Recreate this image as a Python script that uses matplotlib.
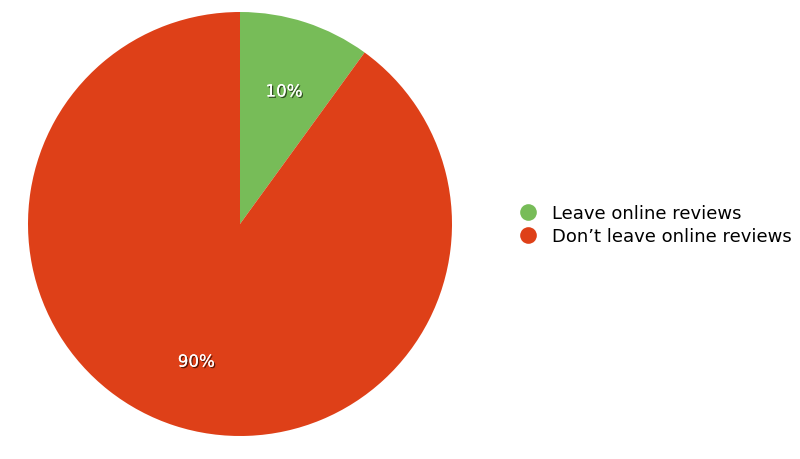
import matplotlib
matplotlib.use('Agg')
import matplotlib.pyplot as plt
import matplotlib.patheffects as pe
from matplotlib.lines import Line2D

plt.rcParams['font.family'] = ['DejaVu Sans']

# Data
labels = ['Leave online reviews', "Don\u2019t leave online reviews"]
values = [10, 90]
colors = ['#77bc58', '#de4018']

fig = plt.figure(figsize=(8, 4.6), dpi=100)
ax = fig.add_axes([28 / 800, 23 / 460, 424 / 800, 424 / 460])

wedges, texts, autotexts = ax.pie(values, colors=colors, startangle=90, counterclock=False,
                                  radius=1, autopct='%d%%', pctdistance=0.67,
                                  wedgeprops=dict(linewidth=0))
ax.set_xlim(-1, 1)
ax.set_ylim(-1, 1)
ax.set_aspect('equal')
ax.axis('off')

# Percentage labels with a small drop shadow
for t in autotexts:
    x, y = t.get_position()
    t.set_position((x, y - 0.012))
    t.set_color('white')
    t.set_fontsize(12)
    t.set_path_effects([pe.withSimplePatchShadow(offset=(1, -1), shadow_rgbFace='black', alpha=0.6),
                        pe.Normal()])

# Legend with round markers
handles = [Line2D([0], [0], marker='o', linestyle='none', markersize=12,
                  markerfacecolor=c, markeredgewidth=0) for c in colors]
leg = fig.legend(handles, labels, loc='center left', bbox_to_anchor=(519 / 800, 1 - 225.5 / 460),
                 frameon=False, fontsize=13, handlelength=1, handletextpad=0.83,
                 labelspacing=0.28, borderpad=0, borderaxespad=0)

fig.savefig('out.png', dpi=100)
